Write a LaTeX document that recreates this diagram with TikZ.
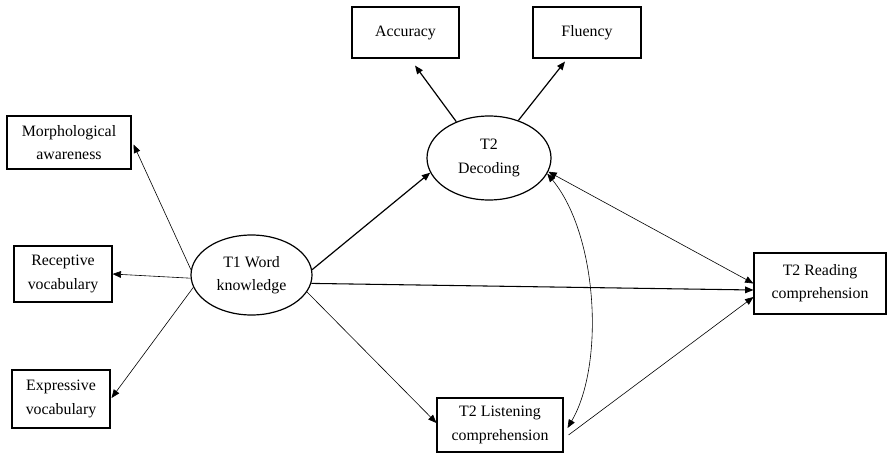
\documentclass[tikz,border=0pt]{standalone}
\usepackage{fontspec}
\setmainfont{Liberation Serif}
\usetikzlibrary{arrows.meta,calc,shapes.geometric}
\begin{document}
\begin{tikzpicture}[x=0.75pt,y=-0.75pt,
  >={Triangle[length=6.3pt,width=5pt]},
  lbl/.style={align=center,inner sep=0pt,font=\fontsize{11.9}{17.5}\selectfont},
  box/.style={lbl,draw,line width=0.8pt},
  latent/.style={lbl,draw,ellipse,line width=0.9pt},
  thinarr/.style={line width=0.45pt,->},
  thickarr/.style={line width=0.9pt,->},
  covarr/.style={line width=0.45pt,<->}]
\useasboundingbox (0,0) rectangle (887,453);
% observed indicators
\node[box,minimum width=93pt,minimum height=39.75pt] (morph) at (69,142.5) {Morphological\\awareness};
\node[box,minimum width=73.5pt,minimum height=42pt] (recep) at (63,274) {Receptive\\vocabulary};
\node[box,minimum width=73.5pt,minimum height=43.5pt] (expr) at (61,399) {Expressive\\vocabulary};
\node[box,minimum width=80.25pt,minimum height=38.25pt] (acc) at (405.5,32.5) {Accuracy};
\node[box,minimum width=81pt,minimum height=38.25pt] (flu) at (587,32.5) {Fluency};
\node[box,minimum width=99pt,minimum height=45.75pt] (read) at (820,283.5) {T2 Reading\\comprehension};
\node[box,minimum width=94.5pt,minimum height=40.5pt] (list) at (500,425) {T2 Listening\\comprehension};
% latent variables
\node[latent,minimum width=93pt,minimum height=63pt] (dec) at (489,158) {T2\\Decoding};
\node[latent,minimum width=90.75pt,minimum height=60pt] (t1) at (251.5,275) {T1 Word\\knowledge};
% loadings of T1
\draw[thinarr] (t1.175) -- ($(morph.east)+(2,2)$);
\draw[thinarr] (t1.183) -- (recep.east);
\draw[thinarr] (t1.192) -- ($(expr.east)+(1,-1)$);
% loadings of decoding
\draw[thickarr] (dec.132) -- ($(acc.south)+(9.5,7)$);
\draw[thickarr] (dec.52) -- ($(flu.south)+(-22,3)$);
% structural paths
\draw[thickarr] (t1.5) -- (dec.194);
\draw[line width=0.8pt,->] (t1.352) -- ($(read.west)+(0,6.5)$);
\draw[thinarr] (t1.343) -- ($(list.west)+(0,-2)$);
\draw[covarr] (dec.347) -- (read.west);
\draw[thinarr] ($(list.east)+(5,10)$) -- ($(read.west)+(0,13.5)$);
\draw[covarr] (dec.345) .. controls +(51,62) and +(37,-63) .. ($(list.east)+(4,3)$);
\end{tikzpicture}
\end{document}
